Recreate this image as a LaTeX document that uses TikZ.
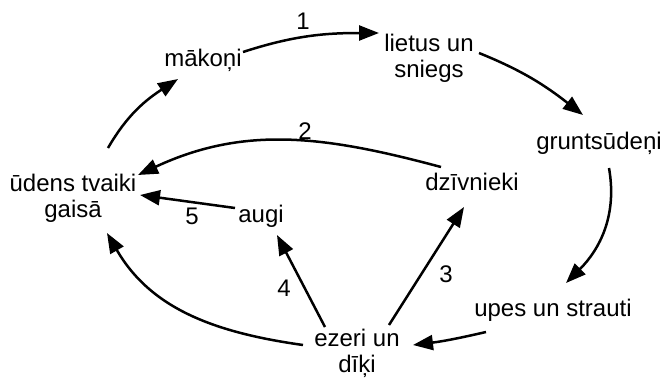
\documentclass[tikz,border=0pt]{standalone}
\usepackage{fontspec}
\setmainfont{Liberation Sans}
\usetikzlibrary{arrows.meta,calc}
\begin{document}
\begin{tikzpicture}[x=1pt,y=1pt,
  lbl/.style={anchor=north,inner sep=0pt,align=center,font=\fontsize{24}{26}\selectfont},
  arr/.style={line width=2.5pt,-{Triangle[length=20pt,width=15pt]}}]
\path[use as bounding box] (0,0) rectangle (662,-378);
\node[lbl] (mak) at (203,-48.6) {mākoņi};
\node[lbl] (lie) at (429,-34.3) {lietus un\\sniegs};
\node[lbl] (gru) at (599,-131.6) {gruntsūdeņi};
\node[lbl] (dzi) at (472,-172.6) {dzīvnieki};
\node[lbl] (upe) at (553,-298.6) {upes un strauti};
\node[lbl] (eze) at (357,-329.4) {ezeri un\\dīķi};
\node[lbl] (ude) at (73,-174.3) {ūdens tvaiki\\gaisā};
\node[lbl] (aug) at (261,-204.6) {augi};
\node[lbl] (n1) at (303,-12.6) {1};
\node[lbl] (n2) at (305,-122.6) {2};
\node[lbl] (n3) at (446,-265.6) {3};
\node[lbl] (n4) at (284,-279.6) {4};
\node[lbl] (n5) at (192,-207.6) {5};
\draw[arr] ($(mak.north)+(40,-3.4)$) to[out=18,in=180] ($(lie.north)+(-50,1.3)$);
\draw[arr] ($(lie.north)+(50,-18.7)$) to[out=-22,in=142] ($(gru.north)+(-16,16.6)$);
\draw[arr] ($(gru.north)+(10,-36.4)$) to[out=-80,in=45] ($(upe.north)+(13,15.6)$);
\draw[arr] ($(upe.north)+(-67,-33.4)$) to[out=193,in=7] ($(eze.north)+(56,-15.6)$);
\draw[arr] ($(eze.north)+(32,4.4)$) -- ($(dzi.north)+(-8,-34.4)$);
\draw[arr] ($(dzi.north)+(-31,5.6)$) to[out=165,in=25] ($(ude.north)+(65,-0.7)$);
\draw[arr] ($(ude.north)+(35,26.3)$) to[out=60,in=-147] ($(mak.north)+(-25,-30.4)$);
\draw[arr] ($(aug.north)+(-26,-3.4)$) -- ($(ude.north)+(67,-20.7)$);
\draw[arr] ($(eze.north)+(-32,2.4)$) -- ($(aug.north)+(16,-30.4)$);
\draw[arr] ($(eze.north)+(-54,-15.6)$) to[out=172,in=-60] ($(ude.north)+(34,-58.7)$);
\end{tikzpicture}
\end{document}
